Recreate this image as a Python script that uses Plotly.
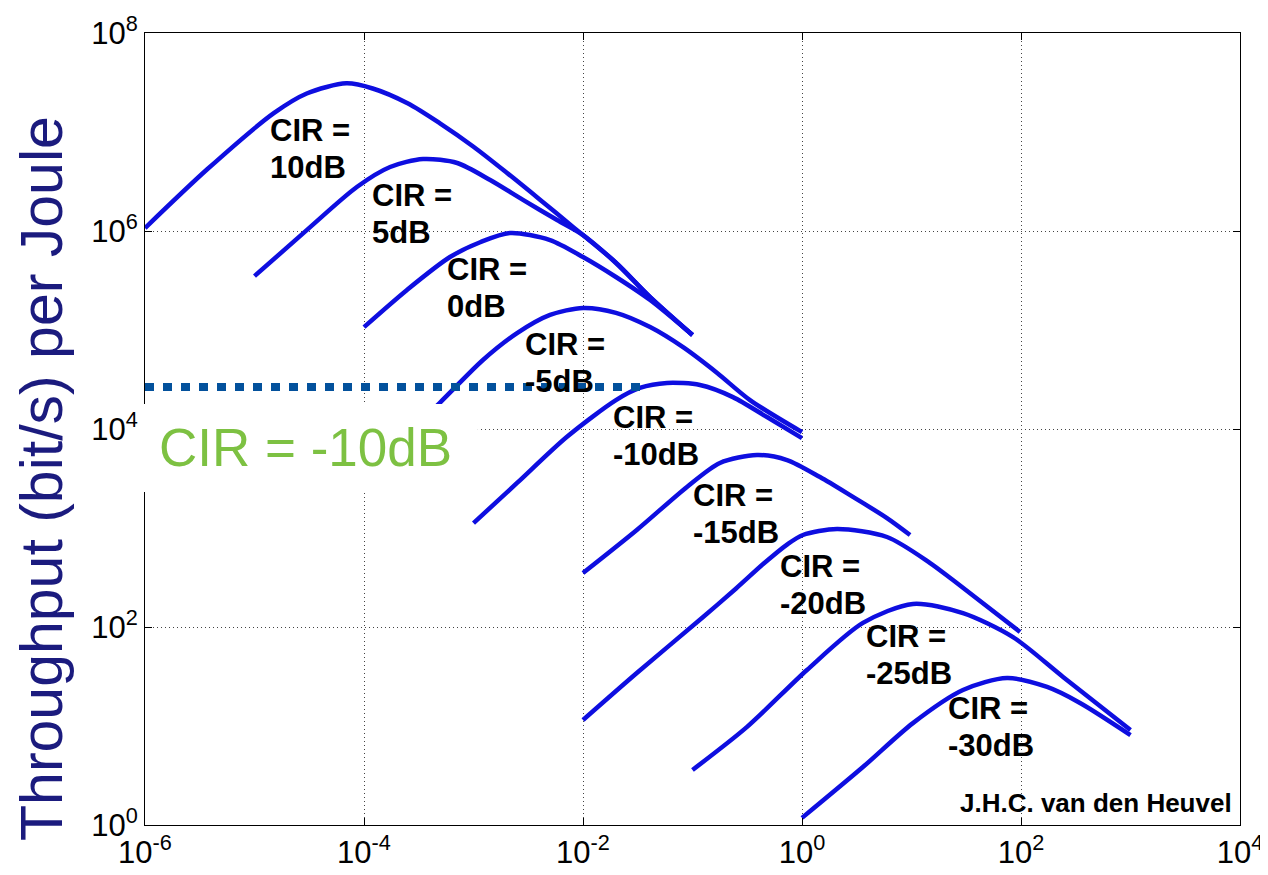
import plotly.graph_objects as go

# ---------------- data ----------------
cir_labels = ["10dB", "5dB", "0dB", "-5dB", "-10dB", "-15dB", "-20dB", "-25dB", "-30dB"]

x_10 = [1e-6, 3.7e-6, 1.5e-5, 3.0e-5, 6.9e-5, 1.2e-4, 2.5e-4, 4.9e-4, 1.0e-3, 2.0e-3, 4.1e-3, 8.1e-3, 1.0e-2, 2.0e-2, 4.1e-2, 1.0e-1]
y_10 = [1.07e6, 4.2e6, 1.55e7, 2.45e7, 3.1e7, 2.75e7, 1.95e7, 1.23e7, 7.1e6, 3.9e6, 2.05e6, 1.1e6, 9.1e5, 4.8e5, 2.15e5, 8.9e4]

x_5 = [1.0e-5, 3.0e-5, 8.6e-5, 1.73e-4, 3.46e-4, 7.1e-4, 1.42e-3, 2.83e-3, 5.8e-3, 1.0e-2, 2.0e-2, 4.1e-2, 1.0e-1]
y_5 = [3.5e5, 1.02e6, 2.78e6, 4.43e6, 5.33e6, 4.86e6, 3.27e6, 2.06e6, 1.29e6, 9.1e5, 4.75e5, 2.15e5, 8.9e4]

x_0 = [1.0e-4, 2.47e-4, 6.1e-4, 1.15e-3, 2.15e-3, 5.0e-3, 1.0e-2, 2.0e-2, 4.1e-2, 1.0e-1]
y_0 = [1.07e5, 2.54e5, 5.46e5, 7.7e5, 9.55e5, 8.1e5, 5.46e5, 3.43e5, 2.01e5, 8.9e4]

x_m5 = [1e-4, 4.9e-4, 1.22e-3, 2.5e-3, 5.0e-3, 1.0e-2, 2.0e-2, 4.1e-2, 8.2e-2, 0.168, 0.335, 1.0]
y_m5 = [3.4e3, 1.83e4, 4.98e4, 9.3e4, 1.42e5, 1.67e5, 1.49e5, 1.07e5, 6.7e4, 3.68e4, 1.96e4, 9.3e3]

x_m10 = [1.0e-3, 2.5e-3, 7.1e-3, 2.0e-2, 3.3e-2, 5.85e-2, 0.117, 0.234, 0.479, 1.0]
y_m10 = [1.12e3, 2.85e3, 8.3e3, 1.96e4, 2.6e4, 2.92e4, 2.78e4, 2.1e4, 1.32e4, 8.1e3]

x_m15 = [1.0e-2, 3.1e-2, 8.9e-2, 0.178, 0.388, 0.73, 1.46, 2.92, 5.97, 9.7]
y_m15 = [351, 955, 2.6e3, 4.54e3, 5.46e3, 4.86e3, 3.27e3, 2.06e3, 1.26e3, 850]

x_m20 = [1.0e-2, 3.1e-2, 0.125, 0.25, 0.45, 0.73, 1.02, 2.09, 5.97, 14.8, 23.9, 98]
y_m20 = [11.5, 34.3, 126, 245, 440, 680, 850, 977, 811, 443, 298, 89]

x_m25 = [0.1, 0.315, 1.11, 3.6, 10.3, 29.5, 84.5, 242, 1000]
y_m25 = [3.6, 9.8, 36.8, 110, 171, 138, 79, 31.3, 9.1]

x_m30 = [1.0, 3.6, 10.3, 29.5, 74.5, 173, 346, 1000]
y_m30 = [1.18, 3.85, 10.7, 23.1, 30.5, 24.8, 17.1, 8.1]

curves_x = [x_10, x_5, x_0, x_m5, x_m10, x_m15, x_m20, x_m25, x_m30]
curves_y = [y_10, y_5, y_0, y_m5, y_m10, y_m15, y_m20, y_m25, y_m30]

# highlighted level (dotted line) for CIR = -10dB
level_x = [1e-6, 0.036]
level_y = [2.66e4, 2.66e4]

# tick values / labels
x_tickvals = [1e-6, 1e-4, 1e-2, 1e0, 1e2, 1e4]
x_ticktext = ["10<sup>-6</sup>", "10<sup>-4</sup>", "10<sup>-2</sup>", "10<sup>0</sup>", "10<sup>2</sup>", "10<sup>4</sup>"]
y_tickvals = [1e0, 1e2, 1e4, 1e6, 1e8]
y_ticktext = ["10<sup>0</sup>", "10<sup>2</sup>", "10<sup>4</sup>", "10<sup>6</sup>", "10<sup>8</sup>"]

# label anchor positions (log10 of data coords), layout only
label_logx = [-4.86, -3.93, -3.24, -2.53, -1.73, -1.00, -0.20, 0.58, 1.33]
label_logy = [7.01, 6.35, 5.60, 4.84, 4.11, 3.32, 2.60, 1.89, 1.17]

# ---------------- figure ----------------
FONT = "Arial, Liberation Sans, sans-serif"
fig = go.Figure()

for cx, cy in zip(curves_x, curves_y):
    fig.add_trace(go.Scatter(
        x=cx, y=cy, mode="lines",
        line=dict(color="#0E0EE0", width=4.5, shape="spline", smoothing=0.8),
        showlegend=False, hoverinfo="skip"))

fig.add_trace(go.Scatter(
    x=level_x, y=level_y, mode="lines",
    line=dict(color="#03519C", width=8, dash="9px,9px"),
    showlegend=False, hoverinfo="skip"))

annotations = []
for lbl, lx, ly in zip(cir_labels, label_logx, label_logy):
    annotations.append(dict(x=lx, y=ly, xref="x", yref="y", text="CIR =",
                            showarrow=False, xanchor="left", yanchor="middle",
                            xshift=-2, yshift=1,
                            font=dict(family=FONT, size=31, color="black", weight="bold")))
    annotations.append(dict(x=lx, y=ly, xref="x", yref="y", text=lbl,
                            showarrow=False, xanchor="left", yanchor="middle",
                            xshift=-2, yshift=-36,
                            font=dict(family=FONT, size=31, color="black", weight="bold")))

annotations.append(dict(x=0.147, y=0.477, xref="paper", yref="paper",
                        text="CIR = -10dB", showarrow=False,
                        xanchor="center", yanchor="middle",
                        font=dict(family=FONT, size=53, color="#7DC142")))
annotations.append(dict(x=-0.094, y=0.437, xref="paper", yref="paper",
                        text="Throughput (bit/s) per Joule", showarrow=False,
                        textangle=-90, xanchor="center", yanchor="middle",
                        font=dict(family=FONT, size=59, color="#1B1B7E")))
annotations.append(dict(x=0.9945, y=0.028, xref="paper", yref="paper",
                        text="J.H.C. van den Heuvel", showarrow=False,
                        xanchor="right", yanchor="middle",
                        font=dict(family=FONT, size=26, color="black", weight="bold")))

shapes = [dict(type="rect", xref="paper", yref="paper",
               x0=-0.0046, x1=0.304, y0=0.4205, y1=0.5316,
               fillcolor="white", line=dict(width=0), layer="above")]

axis_common = dict(
    type="log", showline=True, linecolor="black", linewidth=1, mirror="ticks",
    ticks="inside", ticklen=7, tickcolor="black",
    showgrid=True, gridcolor="#444444", gridwidth=1, griddash="1px,3px",
    zeroline=False, automargin=False,
    tickfont=dict(family=FONT, size=31, color="black"),
)

# the page body adds an 8px margin, so the figure is sized 8px smaller
fig.update_layout(
    width=1260, height=867,
    margin=dict(l=137, r=28, t=25, b=50),
    paper_bgcolor="white", plot_bgcolor="white",
    xaxis=dict(range=[-6, 4], tickvals=x_tickvals, ticktext=x_ticktext, **axis_common),
    yaxis=dict(range=[0, 8], tickvals=y_tickvals, ticktext=y_ticktext, **axis_common),
    annotations=annotations, shapes=shapes,
)

fig.write_html("out.html")
